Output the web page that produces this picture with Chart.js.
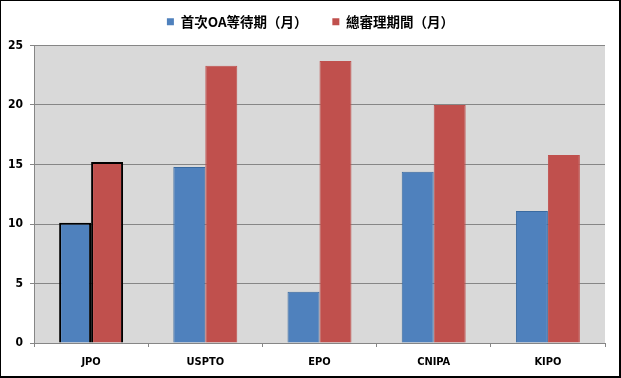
<!DOCTYPE html>
<html>
<head>
<meta charset="utf-8">
<script src="https://cdn.jsdelivr.net/npm/chart.js@4"></script>
<style>
  html, body { margin: 0; padding: 0; background: #fff; }
  #wrap { width: 621px; height: 378px; position: relative; }
</style>
</head>
<body>
<div id="wrap"><canvas id="barChart" width="621" height="378"></canvas></div>
<script>
// data
const offices = ['JPO', 'USPTO', 'EPO', 'CNIPA', 'KIPO'];
const firstActionMonths = [10.1, 14.8, 4.3, 14.4, 11.1];
const totalPendencyMonths = [15.2, 23.3, 23.7, 20.0, 15.8];
const seriesNames = ['首次OA等待期（月）', '總審理期間（月）'];
const yTicks = [0, 5, 10, 15, 20, 25];

const BLUE = '#4f81bd';
const RED = '#c0504d';

// JPO gets the black outline, the rest are plain
const blueBorders = offices.map((o, i) => i === 0 ? '#000000' : '#3a6aa0');
const redBorders = offices.map((o, i) => i === 0 ? '#000000' : RED);
const borderWidths = offices.map((o, i) => i === 0 ? 2 : 1);

// gray plot background + outer frame
const frame = {
    id: 'frame',
    beforeDraw(chart) {
        const { ctx, chartArea: a } = chart;
        ctx.save();
        ctx.fillStyle = '#ffffff';
        ctx.fillRect(0, 0, chart.width, chart.height);
        ctx.fillStyle = '#d9d9d9';
        ctx.fillRect(a.left, a.top, a.right - a.left, a.bottom - a.top);
        ctx.restore();
    },
    afterDraw(chart) {
        const ctx = chart.ctx;
        ctx.save();
        ctx.strokeStyle = '#000000';
        ctx.lineWidth = 2;
        ctx.strokeRect(0, 0, 620, 377);
        ctx.restore();
    }
};

const ctx = document.getElementById('barChart').getContext('2d');
new Chart(ctx, {
    type: 'bar',
    data: {
        labels: offices,
        datasets: [
            {
                label: seriesNames[0],
                data: firstActionMonths,
                backgroundColor: BLUE,
                borderColor: blueBorders,
                borderWidth: borderWidths,
                categoryPercentage: 0.56,
                barPercentage: 1.0
            },
            {
                label: seriesNames[1],
                data: totalPendencyMonths,
                backgroundColor: RED,
                borderColor: redBorders,
                borderWidth: borderWidths,
                categoryPercentage: 0.56,
                barPercentage: 1.0
            }
        ]
    },
    options: {
        responsive: false,
        animation: false,
        layout: { padding: 0 },
        plugins: {
            tooltip: { enabled: false },
            // empty title used only as a spacer between legend and plot
            title: {
                display: true,
                text: '',
                font: { size: 1, lineHeight: 1 },
                padding: { top: 0, bottom: 6 }
            },
            legend: {
                position: 'top',
                weight: 3000,
                labels: {
                    boxWidth: 7,
                    boxHeight: 7,
                    padding: 15,
                    color: '#000',
                    font: { family: '"Noto Sans CJK TC", "DejaVu Sans"', size: 13.5, weight: 'bold' },
                    generateLabels(chart) {
                        const items = Chart.defaults.plugins.legend.labels.generateLabels(chart);
                        items.forEach((it, i) => {
                            it.lineWidth = 0;
                            if (i === 0) it.text = it.text + '　 ';
                        });
                        return items;
                    }
                }
            }
        },
        scales: {
            x: {
                afterFit(scale) { scale.height = 35; },
                border: { display: true, color: '#868686', width: 1 },
                grid: { display: true, drawOnChartArea: false, drawTicks: true, tickLength: 4, color: '#868686', offset: true },
                ticks: {
                    color: '#000',
                    padding: 9,
                    font: { family: '"DejaVu Sans Condensed", "DejaVu Sans"', size: 11, weight: 'bold' }
                }
            },
            y: {
                min: 0,
                max: 25,
                afterFit(scale) { scale.width = 34; },
                afterBuildTicks(scale) { scale.ticks = yTicks.map(v => ({ value: v })); },
                border: { display: true, color: '#868686', width: 1 },
                grid: { color: '#868686', lineWidth: 1, tickLength: 4 },
                ticks: {
                    color: '#000',
                    padding: 7,
                    font: { family: '"DejaVu Sans Condensed", "DejaVu Sans"', size: 12, weight: 'bold' }
                }
            },
            // empty right-hand axis, only there to leave the white margin on the right
            yRight: {
                position: 'right',
                min: 0,
                max: 25,
                afterFit(scale) { scale.width = 16; },
                border: { display: false },
                grid: { display: false },
                ticks: { display: false }
            }
        }
    },
    plugins: [frame]
});
</script>
</body>
</html>
